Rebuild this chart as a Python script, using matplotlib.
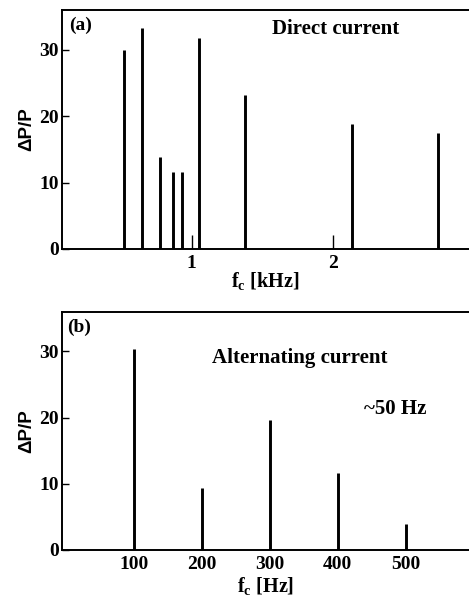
import numpy as np
import matplotlib
matplotlib.use('Agg')
import matplotlib.pyplot as plt

# données
# (a) courant continu : fréquence en kHz, amplitude dP/P
freq_dc = [0.52, 0.65, 0.78, 0.87, 0.93, 1.0, 1.05, 1.38, 2.0, 2.13, 2.74]
dp_dc = [30.0, 33.3, 13.9, 11.6, 11.6, 2.1, 31.8, 23.2, 2.1, 18.8, 17.4]

# (b) courant alternatif : fréquence en Hz
freq_ac = [100, 200, 300, 400, 500]
dp_ac = [30.4, 9.4, 19.7, 11.6, 3.9]

yticks = [0, 10, 20, 30]

plt.rcParams['font.family'] = ['Liberation Serif', 'DejaVu Serif']
plt.rcParams['font.weight'] = 'bold'
plt.rcParams['mathtext.fontset'] = 'custom'
plt.rcParams['mathtext.rm'] = 'Liberation Serif:bold'
plt.rcParams['mathtext.it'] = 'Liberation Serif:bold'

fig = plt.figure(figsize=(4.69, 6.02), dpi=100)
ax1 = fig.add_axes([0.132, 0.5864, 0.868, 0.397])
ax2 = fig.add_axes([0.132, 0.0864, 0.868, 0.3958])


def style_axes(ax):
    for s in ['left', 'bottom', 'top']:
        ax.spines[s].set_linewidth(1.4)
    ax.spines['right'].set_visible(False)
    ax.set_ylim(0, 36)
    ax.set_yticks(yticks)
    ax.tick_params(axis='y', direction='in', length=5, width=1.0, labelsize=14, pad=2)
    ax.tick_params(axis='x', length=0, labelsize=14, pad=4)
    ax.set_ylabel('ΔP/P', fontsize=13.5, fontweight='bold', family='Liberation Sans', labelpad=3)


def draw_bars(ax, x, h):
    x = np.array(x)
    h = np.array(h)
    # les petits pics sont tracés plus fins
    lw = np.where(h < 3, 1.0, 2.1)
    ax.vlines(x, 0, h, colors='black', linewidths=lw)


# panneau (a)
style_axes(ax1)
draw_bars(ax1, freq_dc, dp_dc)
ax1.set_xlim(0.085, 2.957)
ax1.set_xticks([1, 2])
ax1.set_xticklabels(['1', '2'])
ax1.set_xlabel(r'f$_\mathregular{c}$ [kHz]', fontsize=14.5, fontweight='bold', labelpad=-1)
ax1.text(0.018, 0.935, '(a)', transform=ax1.transAxes, fontsize=14, fontweight='bold', va='center')
ax1.text(0.516, 0.92, 'Direct current', transform=ax1.transAxes, fontsize=15, fontweight='bold', va='center')

# panneau (b)
style_axes(ax2)
draw_bars(ax2, freq_ac, dp_ac)
ax2.set_xlim(-6, 593)
ax2.set_xticks(freq_ac)
ax2.set_xlabel(r'f$_\mathregular{c}$ [Hz]', fontsize=14.5, fontweight='bold', labelpad=2)
ax2.text(0.014, 0.935, '(b)', transform=ax2.transAxes, fontsize=14, fontweight='bold', va='center')
ax2.text(0.368, 0.805, 'Alternating current', transform=ax2.transAxes, fontsize=15, fontweight='bold', va='center')
ax2.text(0.743, 0.59, '~50 Hz', transform=ax2.transAxes, fontsize=15, fontweight='bold', va='center')

fig.savefig('out.png', dpi=100)
